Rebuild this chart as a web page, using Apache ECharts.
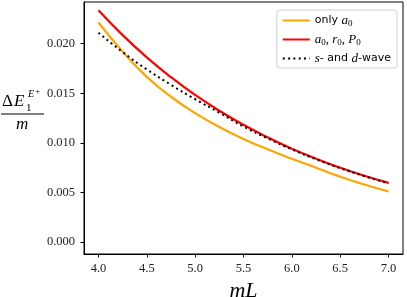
<!DOCTYPE html>
<html><head><meta charset="utf-8">
<script src="https://cdn.jsdelivr.net/npm/echarts@6/dist/echarts.min.js"></script>
<style>html,body{margin:0;padding:0;background:#fff}#c{width:407px;height:297px}</style>
</head><body><div id="c"></div>
<script>
const mL = [4.0, 4.25, 4.5, 4.75, 5.0, 5.25, 5.5, 5.75, 6.0, 6.25, 6.5, 6.75, 7.0];
const onlyA0 = [0.02213, 0.01920, 0.01665, 0.01465, 0.01300, 0.01160, 0.01040, 0.00935, 0.00840, 0.00750, 0.00660, 0.00580, 0.00510];
const a0r0P0 = [0.02337, 0.02086, 0.01862, 0.01662, 0.01483, 0.01324, 0.01182, 0.01055, 0.00941, 0.00840, 0.00750, 0.00669, 0.00597];
const sdWave = [0.02110, 0.01915, 0.01740, 0.01585, 0.01440, 0.01305, 0.01165, 0.01045, 0.00935, 0.00835, 0.00745, 0.00665, 0.00592];
const xTicks = [4.0, 4.5, 5.0, 5.5, 6.0, 6.5, 7.0];
const yTicks = [0.000, 0.005, 0.010, 0.015, 0.020];
const names = ['only a0', 'a0, r0, P0', 's- and d-wave'];

const serif = 'Liberation Serif';
const pair = (xs, ys) => xs.map((x, i) => [x, ys[i]]);
const chart = echarts.init(document.getElementById('c'), null, {renderer: 'canvas'});
const legendFmt = {
  'only a0': 'only {m|a}{s|0}',
  'a0, r0, P0': '{m|a}{s|0}{n|, }{m|r}{s|0}{n|, }{m|P}{s|0}',
  's- and d-wave': '{m|s}- and {m|d}-wave'
};
chart.setOption({
  animation: false,
  grid: {left: 84, top: 2, right: 4, bottom: 43, outerBoundsMode: 'none', containLabel: false, show: true, borderColor: '#000', borderWidth: 1, backgroundColor: 'transparent'},
  xAxis: {
    type: 'value', min: 3.85, max: 7.15,
    name: 'mL', nameLocation: 'middle', nameGap: 19,
    nameTextStyle: {fontFamily: serif, fontStyle: 'italic', fontSize: 22, color: '#000'},
    axisLine: {show: true, onZero: false, lineStyle: {color: '#000', width: 1}},
    axisTick: {show: true, customValues: xTicks, length: 3.5, lineStyle: {color: '#000'}},
    axisLabel: {customValues: xTicks, formatter: v => v.toFixed(1), fontFamily: serif, fontSize: 12.5, color: '#222', margin: 8},
    splitLine: {show: false}
  },
  yAxis: {
    type: 'value', min: -0.0012, max: 0.0242,
    axisLine: {show: true, onZero: false, lineStyle: {color: '#000', width: 1}},
    axisTick: {show: true, customValues: yTicks, length: 3.5, lineStyle: {color: '#000'}},
    axisLabel: {customValues: yTicks, formatter: v => v.toFixed(3), fontFamily: serif, fontSize: 12.5, color: '#222', margin: 9},
    splitLine: {show: false}
  },
  legend: {
    orient: 'vertical', right: 10, top: 10,
    data: names,
    padding: [4, 6, 3, 5], itemGap: 5, itemWidth: 27, itemHeight: 13,
    borderColor: '#d0d0d0', borderWidth: 1, borderRadius: 3, backgroundColor: '#fff',
    itemStyle: {opacity: 0},
    formatter: n => legendFmt[n],
    textStyle: {fontFamily: 'DejaVu Sans', fontSize: 11, color: '#000',
      rich: {
        m: {fontFamily: serif, fontStyle: 'italic', fontSize: 13},
        n: {fontFamily: serif, fontSize: 13},
        s: {fontFamily: serif, fontSize: 9, padding: [6, 0, 0, 0]}
      }}
  },
  series: [
    {name: names[0], type: 'line', data: pair(mL, onlyA0), showSymbol: false, symbol: 'none', smooth: true, lineStyle: {color: '#FFA500', width: 2.2}, itemStyle: {color: '#FFA500'}},
    {name: names[1], type: 'line', data: pair(mL, a0r0P0), showSymbol: false, symbol: 'none', smooth: true, lineStyle: {color: '#FF0000', width: 2.2}, itemStyle: {color: '#FF0000'}},
    {name: names[2], type: 'line', data: pair(mL, sdWave), showSymbol: false, symbol: 'none', smooth: true, lineStyle: {color: '#000', width: 2, type: [2, 3.3]}, itemStyle: {color: '#000'}}
  ],
  graphic: [
    {type: 'text', left: 2, top: 93, style: {text: 'Δ', font: '17px "Liberation Serif"', fill: '#000'}},
    {type: 'text', left: 14, top: 93, style: {text: 'E', font: 'italic 17px "Liberation Serif"', fill: '#000'}},
    {type: 'text', left: 26, top: 103, style: {text: '1', font: '11px "Liberation Serif"', fill: '#000'}},
    {type: 'text', left: 28, top: 89, style: {text: 'E', font: 'italic 10px "Liberation Serif"', fill: '#000'}},
    {type: 'text', left: 35, top: 87, style: {text: '+', font: '9px "Liberation Serif"', fill: '#000'}},
    {type: 'line', shape: {x1: 1, y1: 114, x2: 44, y2: 114}, style: {stroke: '#000', lineWidth: 1}},
    {type: 'text', left: 16, top: 116, style: {text: 'm', font: 'italic 17px "Liberation Serif"', fill: '#000'}}
  ]
});
</script></body></html>
